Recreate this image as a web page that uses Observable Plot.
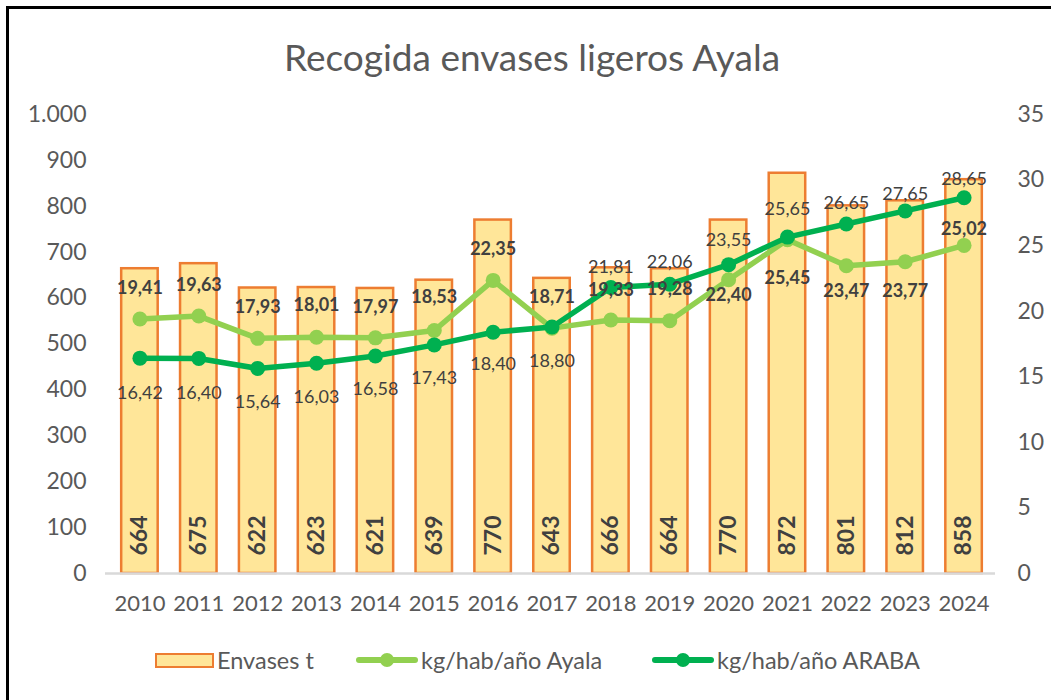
<!DOCTYPE html>
<html>
<head>
<meta charset="utf-8">
<script src="https://cdn.jsdelivr.net/npm/d3@7"></script>
<script src="https://cdn.jsdelivr.net/npm/@observablehq/plot@0.6"></script>
<style>
  html, body { margin: 0; padding: 0; background: #fff; }
  body { width: 1051px; height: 700px; position: relative; overflow: hidden; font-family: Lato, "Open Sans", sans-serif; }
  #frame { position: absolute; left: 6px; top: 6px; width: 1100px; height: 800px; border-top: 3px solid #000; border-left: 3px solid #000; box-sizing: border-box; }
  #title { position: absolute; left: 0; width: 1064px; top: 36px; line-height: 42px; text-align: center; font-size: 37px; color: #595959; }
  #chart { position: absolute; left: 0; top: 90px; }
  .lg { position: absolute; top: 647px; height: 26px; display: flex; align-items: center; font-size: 23.5px; color: #595959; white-space: nowrap; }
  .lg span { margin-left: 3px; }
  .sw-bar { width: 55px; height: 11px; background: #FFE699; border: 2px solid #ED7D31; }
</style>
</head>
<body>
<div id="frame"></div>
<div id="title">Recogida envases ligeros Ayala</div>
<div id="chart"></div>
<div class="lg" style="left:155px"><div class="sw-bar"></div><span>Envases t</span></div>
<div class="lg" style="left:356px"><svg width="62" height="18"><line x1="3" y1="9" x2="59" y2="9" stroke="#92D050" stroke-width="6" stroke-linecap="round"/><circle cx="31" cy="9" r="7" fill="#92D050"/></svg><span>kg/hab/año Ayala</span></div>
<div class="lg" style="left:652px"><svg width="62" height="18"><line x1="3" y1="9" x2="59" y2="9" stroke="#00B050" stroke-width="6" stroke-linecap="round"/><circle cx="31" cy="9" r="7" fill="#00B050"/></svg><span>kg/hab/año ARABA</span></div>
<script>
// ---- data ----
const years = ["2010","2011","2012","2013","2014","2015","2016","2017","2018","2019","2020","2021","2022","2023","2024"];
const envases = [664, 675, 622, 623, 621, 639, 770, 643, 666, 664, 770, 872, 801, 812, 858];
const ayala = [19.41, 19.63, 17.93, 18.01, 17.97, 18.53, 22.35, 18.71, 19.33, 19.28, 22.40, 25.45, 23.47, 23.77, 25.02];
const araba = [16.42, 16.40, 15.64, 16.03, 16.58, 17.43, 18.40, 18.80, 21.81, 22.06, 23.55, 25.65, 26.65, 27.65, 28.65];
const leftTicks = [0, 100, 200, 300, 400, 500, 600, 700, 800, 900, 1000];
const rightTicks = [0, 5, 10, 15, 20, 25, 30, 35];
const leftMax = 1000, rightMax = 35;

// label placement (pixel offsets of value labels from their points)
const ayalaDy = [-31, -31, -31, -32, -31, -33, -31, -31, -30, -31, 15, 38, 26, 29, -16];
const arabaDy = [35, 35, 34, 34, 33, 33, 32, 34, -20, -22, -24, -28, -21, -17, -19];

const k = leftMax / rightMax;
const data = years.map((y, i) => ({year: y, envases: envases[i], ayala: ayala[i], araba: araba[i]}));
const fmtDec = v => v.toFixed(2).replace(".", ",");
const fmtThou = v => d3.format(",")(v).replace(/,/g, ".");

const textColor = "#404040";
const labelMarks = [];
data.forEach((d, i) => {
  labelMarks.push(Plot.text([d], {x: "year", y: r => r.ayala * k, text: r => fmtDec(r.ayala), dy: ayalaDy[i],
    fontWeight: "bold", fontSize: 18, fill: textColor}));
  labelMarks.push(Plot.text([d], {x: "year", y: r => r.araba * k, text: r => fmtDec(r.araba), dy: arabaDy[i],
    fontSize: 18, fill: textColor}));
});

const chart = Plot.plot({
  width: 1051,
  height: 540,
  marginLeft: 110,
  marginRight: 58,
  marginTop: 24,
  marginBottom: 57,
  style: {fontFamily: "Lato, 'Open Sans', sans-serif", color: "#595959", background: "transparent", overflow: "visible"},
  x: {type: "band", domain: years, paddingInner: 0.38, paddingOuter: 0.19, round: false, label: null},
  y: {domain: [0, leftMax], label: null},
  marks: [
    Plot.axisX({tickSize: 0, tickPadding: 22, fontSize: 22, label: null}),
    Plot.axisY({ticks: leftTicks, tickSize: 0, tickPadding: 24, tickFormat: fmtThou, fontSize: 23, label: null}),
    Plot.axisY({anchor: "right", ticks: rightTicks.map(v => v * k), tickSize: 0, tickPadding: 24,
      tickFormat: v => String(Math.round(v / k)), fontSize: 23, label: null}),
    Plot.barY(data, {x: "year", y: "envases", fill: "#FFE699", stroke: "#ED7D31", strokeWidth: 2.5}),
    Plot.ruleY([0], {stroke: "#D9D9D9", strokeWidth: 2.5, insetLeft: -5, insetRight: -2}),
    Plot.text(data, {x: "year", y: d => 0, text: d => String(d.envases), rotate: -90, textAnchor: "start",
      lineAnchor: "middle", dy: -18, fontWeight: "bold", fontSize: 23, fill: textColor}),
    Plot.lineY(data, {x: "year", y: d => d.ayala * k, stroke: "#92D050", strokeWidth: 5.5, strokeLinejoin: "round"}),
    Plot.dot(data, {x: "year", y: d => d.ayala * k, r: 7.5, fill: "#92D050", stroke: "none"}),
    Plot.lineY(data, {x: "year", y: d => d.araba * k, stroke: "#00B050", strokeWidth: 5.5, strokeLinejoin: "round"}),
    Plot.dot(data, {x: "year", y: d => d.araba * k, r: 7.5, fill: "#00B050", stroke: "none"}),
    ...labelMarks
  ]
});
document.getElementById("chart").appendChild(chart);
</script>
</body>
</html>
